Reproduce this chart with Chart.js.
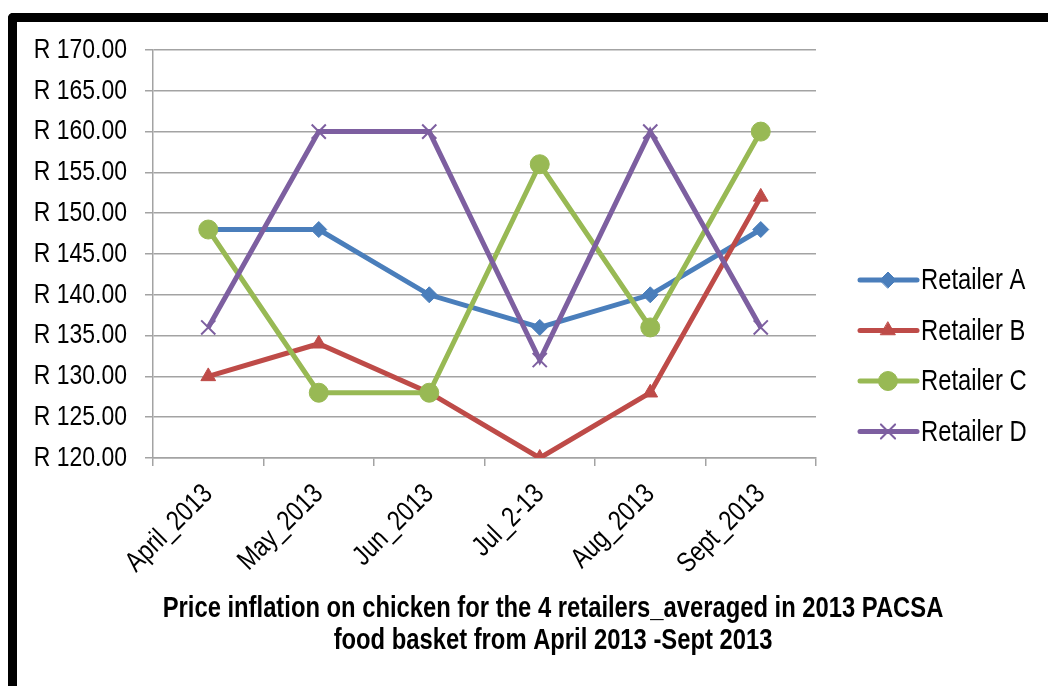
<!DOCTYPE html>
<html><head><meta charset="utf-8">
<script src="https://cdn.jsdelivr.net/npm/chart.js@4.4.0/dist/chart.umd.min.js"></script>
<style>
html,body{margin:0;padding:0;background:#fff;overflow:hidden;width:1048px;height:686px;}
#frame{position:absolute;left:8px;top:13px;width:1200px;height:800px;border-top:9px solid #000;border-left:9px solid #000;border-top-left-radius:5px;box-sizing:border-box;}
#wrap{position:absolute;left:0;top:0;width:1048px;height:686px;}
</style></head><body>
<div id="frame"></div>
<div id="wrap"><canvas id="c" width="1048" height="686"></canvas></div>
<script>
const CATEGORIES = ['April_2013','May_2013','Jun_2013','Jul_2-13','Aug_2013','Sept_2013'];
const RETAILER_A = [148,148,140,136,140,148];
const RETAILER_B = [130,134,128,120,128,152];
const RETAILER_C = [148,128,128,156,136,160];
const RETAILER_D = [136,160,160,132,160,136];
const SERIES_NAMES = ['Retailer A','Retailer B','Retailer C','Retailer D'];
const Y_MIN = 120, Y_MAX = 170, Y_STEP = 5;
const TITLE_LINES = ['Price inflation on chicken for the 4 retailers_averaged in 2013 PACSA','food basket from April 2013 -Sept 2013'];

const FONT = "'Liberation Sans', Arial, sans-serif";
const GRID = '#a3a3a3';
const NARROW = 0.82;

const canvas = document.getElementById('c');
const ctx0 = canvas.getContext('2d');
// Draw all text horizontally condensed (reference uses a narrow face)
const origFill = ctx0.fillText.bind(ctx0);
ctx0.fillText = function (t, x, y, mw) {
  this.save();
  this.translate(x, y);
  this.scale(NARROW, 1);
  origFill(t, 0, 0);
  this.restore();
};

const sideLegend = {
  id: 'sideLegend',
  afterDraw(chart) {
    const ctx = chart.ctx;
    ctx.save();
    chart.data.datasets.forEach((ds, i) => {
      const y = 280 + i * 50.5;
      ctx.strokeStyle = ds.borderColor;
      ctx.lineWidth = ds.borderWidth;
      ctx.lineCap = 'round';
      ctx.beginPath(); ctx.moveTo(860, y); ctx.lineTo(917, y); ctx.stroke();
      ctx.fillStyle = ds.pointBackgroundColor;
      ctx.strokeStyle = ds.pointBorderColor;
      ctx.lineWidth = ds.pointBorderWidth;
      Chart.helpers.drawPoint(ctx, {pointStyle: ds.pointStyle, radius: ds.pointRadius, borderWidth: ds.pointBorderWidth, rotation: 0}, 888, y);
      ctx.fillStyle = '#000';
      ctx.font = '29px ' + FONT;
      ctx.textAlign = 'left';
      ctx.textBaseline = 'middle';
      ctx.fillText(ds.label, 921, y + 1);
    });
    ctx.restore();
  }
};
const bottomTitle = {
  id: 'bottomTitle',
  afterDraw(chart) {
    const ctx = chart.ctx;
    ctx.save();
    ctx.fillStyle = '#000';
    ctx.font = 'bold 29px ' + FONT;
    ctx.textAlign = 'center';
    ctx.textBaseline = 'middle';
    TITLE_LINES.forEach((t, i) => ctx.fillText(t, 553, 609 + i * 32));
    ctx.restore();
  }
};

function mk(label, data, color, style, radius, bw, order) {
  return {label, data, borderColor: color, backgroundColor: color, borderWidth: 5,
    pointStyle: style, pointRadius: radius, pointHoverRadius: radius,
    pointBackgroundColor: color, pointBorderColor: color, pointBorderWidth: bw,
    tension: 0, order, clip: {left: false, right: false, top: false, bottom: 0}};
}

new Chart(canvas, {
  type: 'line',
  data: {
    labels: CATEGORIES,
    datasets: [
      mk(SERIES_NAMES[0], RETAILER_A, '#4a7ebb', 'rectRot', 8, 1, 4),
      mk(SERIES_NAMES[1], RETAILER_B, '#be4b48', 'triangle', 8.5, 1, 3),
      mk(SERIES_NAMES[2], RETAILER_C, '#98b954', 'circle', 9.5, 1, 2),
      mk(SERIES_NAMES[3], RETAILER_D, '#7d5fa0', 'crossRot', 10, 2, 1)
    ]
  },
  options: {
    responsive: false,
    animation: false,
    events: [],
    layout: {padding: {left: 0, top: 50, right: 232, bottom: 88}},
    plugins: {legend: {display: false}, title: {display: false}, tooltip: {enabled: false}},
    scales: {
      x: {
        offset: true,
        grid: {display: true, offset: true, drawOnChartArea: false, drawTicks: true, tickLength: 8, color: GRID, lineWidth: 1.5},
        border: {display: true, color: GRID, width: 1.5},
        ticks: {color: '#000', font: {family: FONT, size: 28}, minRotation: 45, maxRotation: 45, padding: 12, autoSkip: false},
        afterFit(s) { s.height = 140; }
      },
      y: {
        min: Y_MIN, max: Y_MAX,
        grid: {color: GRID, lineWidth: 1.5, tickLength: 8},
        border: {display: true, color: GRID, width: 1.5},
        ticks: {stepSize: Y_STEP, color: '#000', font: {family: FONT, size: 28}, padding: 18,
          callback: v => 'R ' + Number(v).toFixed(2)},
        afterFit(s) { s.width = 153; }
      }
    }
  },
  plugins: [sideLegend, bottomTitle]
});
</script>
</body></html>
